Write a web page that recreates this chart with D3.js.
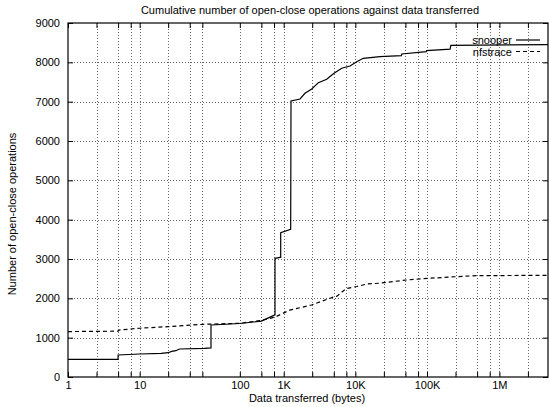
<!DOCTYPE html>
<html><head><meta charset="utf-8">
<script src="https://cdn.jsdelivr.net/npm/d3@7"></script>
<style>
body{margin:0;background:#fff}
svg{display:block}
text{font-family:"Liberation Sans",Arial,Helvetica,sans-serif;fill:#000}
</style>
</head><body>
<svg id="c" width="549" height="407"></svg>
<script>
const title = "Cumulative number of open-close operations against data transferred";
const xLabel = "Data transferred (bytes)";
const yLabel = "Number of open-close operations";
const seriesNames = ["snooper", "nfstrace"];

const snooperX = [1, 5, 5, 10, 20, 25, 28, 32, 36, 80, 99, 99, 250, 500, 734, 774, 774, 910, 930, 930, 1282, 1295, 1730, 2030, 2520, 3120, 4080, 5160, 6610, 8630, 10700, 13200, 22600, 45000, 45500, 100000, 101000, 215000, 220000, 5000000];
const snooperY = [450, 450, 559, 585, 600, 618, 650, 669, 712, 729, 740, 1322, 1360, 1420, 1560, 1580, 3017, 3043, 3043, 3670, 3755, 7018, 7068, 7213, 7323, 7483, 7569, 7722, 7849, 7907, 8017, 8103, 8144, 8170, 8212, 8270, 8300, 8335, 8430, 8450];

const nfstraceX = [1, 5, 5.2, 10, 25, 77, 250, 500, 780, 1240, 2500, 5000, 5600, 7700, 10700, 15000, 22600, 28000, 53000, 108000, 265000, 500000, 5000000];
const nfstraceY = [1155, 1165, 1195, 1240, 1280, 1340, 1365, 1440, 1525, 1700, 1830, 2030, 2050, 2250, 2300, 2365, 2385, 2408, 2466, 2509, 2551, 2576, 2585];

const xTickValues = [1, 2.5, 5, 7.5, 10, 25, 50, 75, 250, 500, 750, 1024, 2560, 5120, 7680, 10240, 25600, 51200, 76800, 102400, 256000, 512000, 768000, 1048576, 2621440];
const xTickLabels = ["1", "", "", "", "10", "", "", "", "100", "", "", "1K", "", "", "", "10K", "", "", "", "100K", "", "", "", "1M", ""];
const yTickValues = [0, 1000, 2000, 3000, 4000, 5000, 6000, 7000, 8000, 9000];

const L = 68, R = 548, T = 23, B = 377;
const FS = 11;
const svg = d3.select("#c");
const x = d3.scaleLog().domain([1, 5000000]).range([L, R]);
const y = d3.scaleLinear().domain([0, 9000]).range([B, T]);

// grid
const grid = svg.append("g");
grid.selectAll("line.vx").data(xTickValues.slice(1)).join("line")
  .attr("x1", d => Math.round(x(d)) + 0.5).attr("x2", d => Math.round(x(d)) + 0.5)
  .attr("y1", T).attr("y2", B)
  .attr("stroke", "#666").attr("stroke-width", 1).attr("stroke-dasharray", "1,2");
grid.selectAll("line.hy").data(yTickValues.slice(1, -1)).join("line")
  .attr("x1", L).attr("x2", R)
  .attr("y1", d => Math.round(y(d)) + 0.5).attr("y2", d => Math.round(y(d)) + 0.5)
  .attr("stroke", "#666").attr("stroke-width", 1).attr("stroke-dasharray", "1,2");

// axes
const fmt = d => xTickLabels[xTickValues.indexOf(d)];
const xb = svg.append("g").attr("transform", `translate(0,${B})`)
  .call(d3.axisBottom(x).tickValues(xTickValues).tickFormat(fmt).tickSizeInner(-5).tickSizeOuter(0).tickPadding(4));
const xt = svg.append("g").attr("transform", `translate(0,${T})`)
  .call(d3.axisTop(x).tickValues(xTickValues).tickFormat("").tickSizeInner(-5).tickSizeOuter(0));
const yl = svg.append("g").attr("transform", `translate(${L},0)`)
  .call(d3.axisLeft(y).tickValues(yTickValues).tickFormat(d3.format("d")).tickSizeInner(-5).tickSizeOuter(0).tickPadding(8));
const yr = svg.append("g").attr("transform", `translate(${R},0)`)
  .call(d3.axisRight(y).tickValues(yTickValues).tickFormat("").tickSizeInner(-5).tickSizeOuter(0));
[xb, xt, yl, yr].forEach(g => {
  g.select(".domain").remove();
  g.selectAll(".tick line").attr("stroke", "#000");
  g.selectAll(".tick text").attr("font-size", FS).attr("font-family", "Liberation Sans, Arial, sans-serif").attr("fill", "#000");
});

// border
svg.append("rect").attr("x", L).attr("y", T).attr("width", R - L).attr("height", B - T)
  .attr("fill", "none").attr("stroke", "#000").attr("stroke-width", 1.2);

// lines
const line = d3.line().x(d => x(d[0])).y(d => y(d[1]));
const sData = snooperX.map((v, i) => [v, snooperY[i]]);
const nData = nfstraceX.map((v, i) => [v, nfstraceY[i]]);
svg.append("path").datum(sData).attr("d", line).attr("fill", "none").attr("stroke", "#000").attr("stroke-width", 1.2);
svg.append("path").datum(nData).attr("d", line).attr("fill", "none").attr("stroke", "#000").attr("stroke-width", 1.2).attr("stroke-dasharray", "4,3");

// legend
const leg = svg.append("g");
seriesNames.forEach((n, i) => {
  const yy = 40 + i * 11.5;
  leg.append("text").attr("x", 512).attr("y", yy + 4).attr("text-anchor", "end").attr("font-size", FS).text(n);
  leg.append("line").attr("x1", 516).attr("x2", 540).attr("y1", yy).attr("y2", yy)
    .attr("stroke", "#000").attr("stroke-width", 1.2).attr("stroke-dasharray", i === 1 ? "4,3" : null);
});

// titles
svg.append("text").attr("x", 310).attr("y", 14).attr("text-anchor", "middle").attr("font-size", FS).text(title);
svg.append("text").attr("x", 307).attr("y", 402).attr("text-anchor", "middle").attr("font-size", FS).text(xLabel);
svg.append("text").attr("transform", `translate(16,${(T + B) / 2 + 14}) rotate(-90)`).attr("text-anchor", "middle").attr("font-size", FS).text(yLabel);
</script>
</body></html>
